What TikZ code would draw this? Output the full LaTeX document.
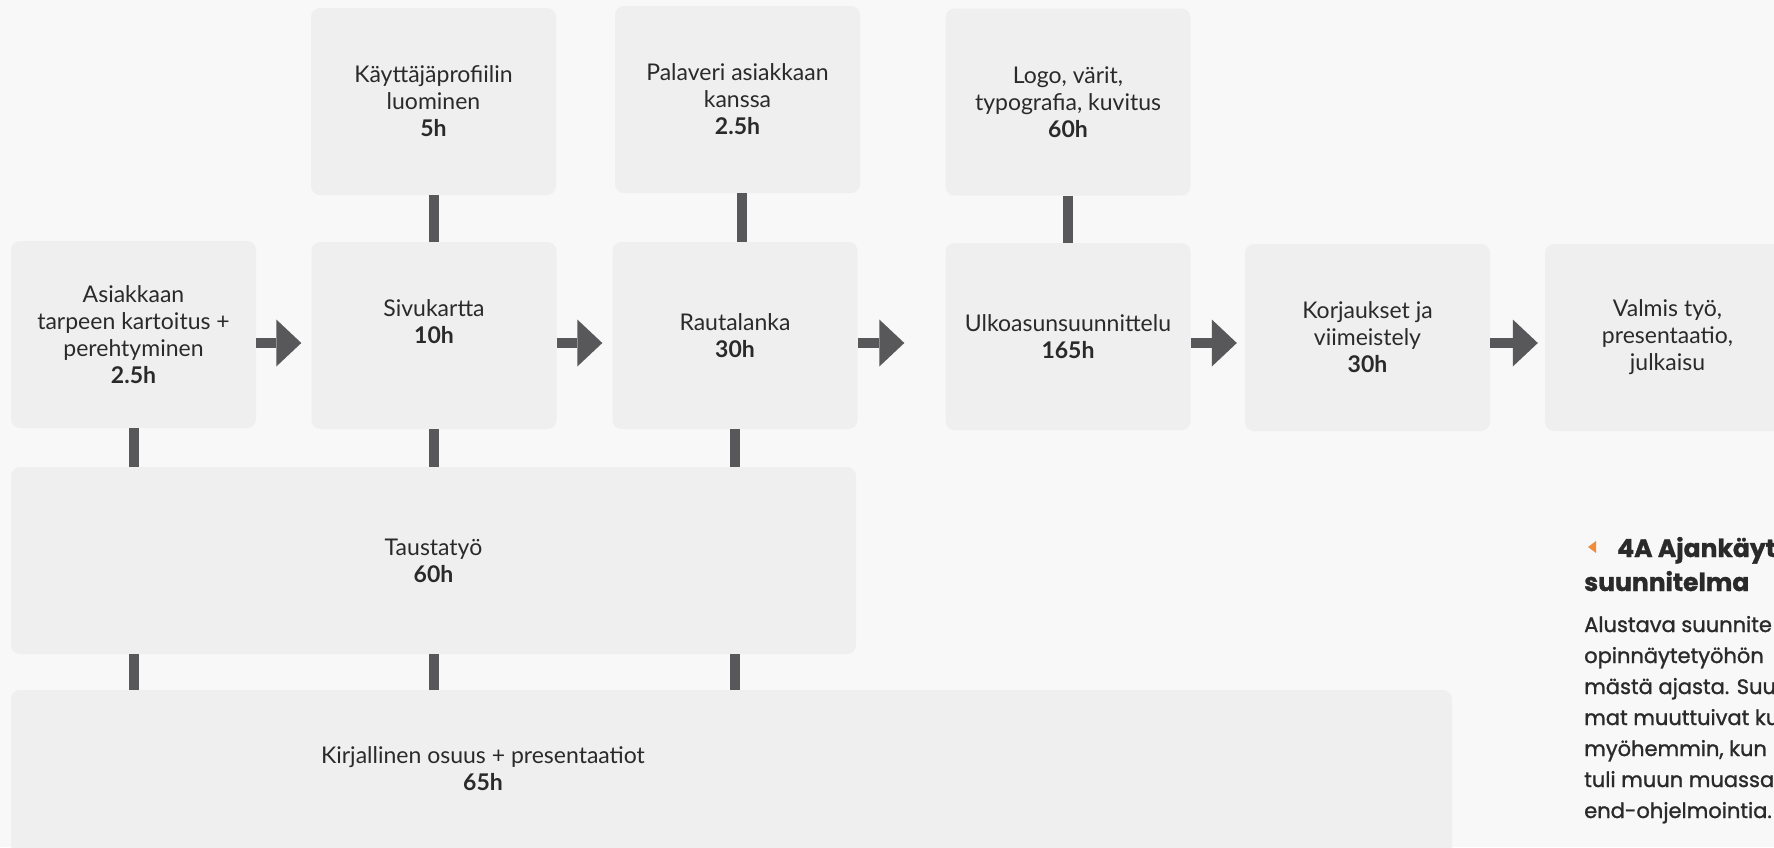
\documentclass[tikz,border=0pt]{standalone}
\usepackage{fontspec}
\setmainfont{Lato}
\newfontfamily\sidefont[FakeBold=1.2]{Poppins}
\usetikzlibrary{calc,arrows.meta}
\definecolor{bgGray}{HTML}{F8F8F8}
\definecolor{boxGray}{HTML}{EFEFEF}
\definecolor{linkGray}{HTML}{58585A}
\definecolor{inkGray}{HTML}{2A2A2A}
\definecolor{markOrange}{HTML}{F08C3A}
\newcommand{\BoxW}{245pt}
\newcommand{\BoxH}{187pt}
\tikzset{Task/.style={
    inner sep=0pt,
    minimum width=\BoxW,
    minimum height=\BoxH,
    rounded corners=9pt,
    fill=boxGray,
    text=inkGray,
    align=center,
    font=\fontsize{23}{27}\selectfont,
    },
    Link/.style={draw=linkGray, line width=10pt},
    Flow/.style={draw=linkGray, line width=10pt,
        -{Triangle[length=25pt,width=47pt,line width=0pt]}},
    Side/.style={inner sep=0pt, text=inkGray, anchor=base west,
        font=\sidefont\fontsize{21}{31}\selectfont},
}

\begin{document}
\begin{tikzpicture}[x=1pt, y=-1pt]
    \useasboundingbox (0,0) rectangle (1774,847);
    \clip (0,0) rectangle (1774,847);
    \fill [bgGray] (0,0) rectangle (1774,847);
    % top row
    \node [Task] (prof) at (433.5,101.5) {Käyttäjäprofiilin\\luominen\\\textbf{5h}};
    \node [Task] (pala) at (737.5,99.5) {Palaveri asiakkaan\\kanssa\\\textbf{2.5h}};
    \node [Task] (logo) at (1068,102) {Logo, värit,\\typografia, kuvitus\\\textbf{60h}};
    % main row
    \node [Task] (asia) at (133.5,334.5) {Asiakkaan\\tarpeen kartoitus +\\perehtyminen\\\textbf{2.5h}};
    \node [Task] (sivu) at (434,335.5) {Sivukartta\\\textbf{10h}\\~};
    \node [Task] (raut) at (735,335.5) {Rautalanka\\\textbf{30h}};
    \node [Task] (ulko) at (1068,336.5) {Ulkoasunsuunnittelu\\\textbf{165h}};
    \node [Task] (korj) at (1367.5,337.5) {Korjaukset ja\\viimeistely\\\textbf{30h}};
    \node [Task] (valm) at (1667.5,337.5) {Valmis työ,\\presentaatio,\\julkaisu};
    % wide rows
    \node [Task, minimum width=845pt] (taus) at (433.5,560.5) {Taustatyö\\\textbf{60h}};
    \node [Task, minimum width=1441pt] (kirj) at (731.5,783.5) {};
    \node [Task, fill=none, minimum width=0pt, minimum height=0pt] (kirjText) at (483,769)
        {Kirjallinen osuus + presentaatiot\\\textbf{65h}};
    % links
    \draw [Link] (prof.south) -- (prof.south |- sivu.north);
    \draw [Link] ([xshift=4.5pt]pala.south) -- ([xshift=4.5pt]pala.south |- raut.north);
    \draw [Link] (logo.south) -- (logo.south |- ulko.north);
    \draw [Link] (asia.south) -- (asia.south |- taus.north);
    \draw [Link] (sivu.south) -- (sivu.south |- taus.north);
    \draw [Link] (raut.south) -- (raut.south |- taus.north);
    \draw [Link] (asia.south |- taus.south) -- (asia.south |- kirj.north);
    \draw [Link] (sivu.south |- taus.south) -- (sivu.south |- kirj.north);
    \draw [Link] (raut.south |- taus.south) -- (raut.south |- kirj.north);
    % arrows
    \coordinate (mid) at (0,343);
    \draw [Flow, shorten >=10pt] (asia.east |- mid) -- (sivu.west |- mid);
    \draw [Flow, shorten >=10pt] (sivu.east |- mid) -- (raut.west |- mid);
    \draw [Flow, shorten >=41pt] (raut.east |- mid) -- (ulko.west |- mid);
    \draw [Flow, shorten >=8pt] (ulko.east |- mid) -- (korj.west |- mid);
    \draw [Flow, shorten >=7pt] (korj.east |- mid) -- (valm.west |- mid);
    % side text
    \fill [markOrange] (1588,547) -- (1596,541) -- (1596,553) -- cycle;
    \node [Side, font=\sidefont\bfseries\fontsize{25}{34}\selectfont] (head) at (1617,557) {4A Ajankäytön};
    \node [Side, font=\sidefont\bfseries\fontsize{25}{34}\selectfont] (headB) at (1584,591) {suunnitelma};
    \foreach \txt [count=\i from 0] in {Alustava suunnite, opinnäytetyöhön, mästä ajasta. Suun,
        mat muuttuivat ku, {myöhemmin, kun}, tuli muun muassa, end-ohjelmointia.}
        \node [Side] (body\i) at (1584,632+31*\i) {\txt};
\end{tikzpicture}
\end{document}
